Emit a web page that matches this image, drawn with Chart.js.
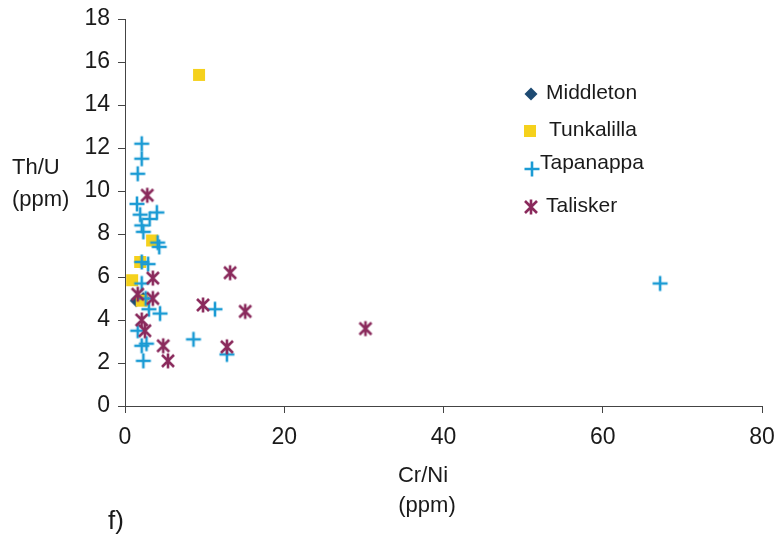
<!DOCTYPE html>
<html>
<head>
<meta charset="utf-8">
<script src="https://cdn.jsdelivr.net/npm/chart.js@4.4.1/dist/chart.umd.min.js"></script>
<style>
  html, body { margin: 0; padding: 0; background: #fff; }
  #wrap { width: 774px; height: 541px; }
</style>
</head>
<body>
<div id="wrap"><canvas id="thuChart" width="774" height="541"></canvas></div>
<script>
// Cr/Ni vs Th/U by locality
const seriesNames = ['Middleton', 'Tunkalilla', 'Tapanappa', 'Talisker'];

const middletonCrNi = [1.4, 2.3];
const middletonThU  = [4.9, 5.0];

const tunkalillaCrNi = [9.3, 3.4, 1.9, 0.9, 2.1];
const tunkalillaThU  = [15.4, 7.7, 6.7, 5.85, 4.9];

const tapanappaCrNi = [2.1, 2.1, 1.6, 1.5, 4.0, 1.9, 3.1, 2.1, 2.3, 4.1, 4.3, 2.1, 2.9, 2.1, 2.6, 4.4, 3.0, 1.6, 2.7, 2.1, 2.3, 8.6, 11.3, 12.8, 67.2];
const tapanappaThU  = [12.2, 11.5, 10.8, 9.4, 9.0, 8.9, 8.7, 8.4, 8.1, 7.6, 7.4, 6.7, 6.6, 5.7, 5.0, 4.3, 4.5, 3.5, 2.9, 2.8, 2.1, 3.1, 4.5, 2.4, 5.7];

const taliskerCrNi = [2.8, 3.5, 1.6, 3.5, 2.1, 2.5, 4.8, 5.4, 9.8, 13.2, 15.1, 12.8, 30.2];
const taliskerThU  = [9.8, 5.95, 5.2, 5.0, 4.0, 3.5, 2.8, 2.1, 4.7, 6.2, 4.4, 2.75, 3.6];

const xTicks = [0, 20, 40, 60, 80];
const yTicks = [0, 2, 4, 6, 8, 10, 12, 14, 16, 18];

const colors = {
    Middleton: '#1d4a72',
    Tunkalilla: '#f5d11c',
    Tapanappa: '#1b9bd4',
    Talisker: '#8a2a5c'
};

// small canvases used as point styles (and in the legend)
function makeMarker(kind, color) {
    const size = 18;
    const c = document.createElement('canvas');
    c.width = size;
    c.height = size;
    const g = c.getContext('2d');
    const m = size / 2;
    g.fillStyle = color;
    g.strokeStyle = color;
    if (kind === 'diamond') {
        g.beginPath();
        g.moveTo(m, m - 6.5);
        g.lineTo(m + 6.5, m);
        g.lineTo(m, m + 6.5);
        g.lineTo(m - 6.5, m);
        g.closePath();
        g.fill();
    } else if (kind === 'square') {
        g.fillRect(m - 6, m - 6, 12, 12);
    } else if (kind === 'plus') {
        g.lineWidth = 2.6;
        g.beginPath();
        g.moveTo(m - 7.5, m);
        g.lineTo(m + 7.5, m);
        g.moveTo(m, m - 7.5);
        g.lineTo(m, m + 7.5);
        g.stroke();
    } else if (kind === 'star') {
        g.lineWidth = 2.6;
        g.beginPath();
        g.moveTo(m - 6, m - 6);
        g.lineTo(m + 6, m + 6);
        g.moveTo(m + 6, m - 6);
        g.lineTo(m - 6, m + 6);
        g.moveTo(m, m - 7.5);
        g.lineTo(m, m + 7.5);
        g.stroke();
    }
    return c;
}

const markers = {
    Middleton: makeMarker('diamond', colors.Middleton),
    Tunkalilla: makeMarker('square', colors.Tunkalilla),
    Tapanappa: makeMarker('plus', colors.Tapanappa),
    Talisker: makeMarker('star', colors.Talisker)
};

function toPoints(xs, ys) {
    return xs.map((x, i) => ({ x: x, y: ys[i] }));
}

const seriesData = {
    Middleton: toPoints(middletonCrNi, middletonThU),
    Tunkalilla: toPoints(tunkalillaCrNi, tunkalillaThU),
    Tapanappa: toPoints(tapanappaCrNi, tapanappaThU),
    Talisker: toPoints(taliskerCrNi, taliskerThU)
};

// lower order is painted last, so Talisker ends up on top
const drawOrder = { Middleton: 3, Tunkalilla: 2, Tapanappa: 1, Talisker: 0 };

const FONT = '"Liberation Sans", Arial, sans-serif';
const INK = '#1a1a1a';

// axis titles, panel letter and the legend box on the right
const annotations = {
    id: 'annotations',
    afterDraw(chart) {
        const ctx = chart.ctx;
        ctx.save();
        ctx.fillStyle = INK;
        ctx.textBaseline = 'middle';

        ctx.font = '22px ' + FONT;
        ctx.textAlign = 'left';
        ctx.fillText('Th/U', 12, 168);
        ctx.fillText('(ppm)', 12, 200);

        ctx.textAlign = 'center';
        ctx.fillText('Cr/Ni', 423, 476);
        ctx.fillText('(ppm)', 427, 506);

        ctx.textAlign = 'left';
        ctx.font = '26px ' + FONT;
        ctx.fillText('f)', 108, 522);

        const legendRows = [
            { name: 'Middleton', mx: 531, my: 94, tx: 546, ty: 93 },
            { name: 'Tunkalilla', mx: 530, my: 131, tx: 549, ty: 130 },
            { name: 'Tapanappa', mx: 532, my: 169, tx: 540, ty: 163 },
            { name: 'Talisker', mx: 531, my: 207, tx: 546, ty: 206 }
        ];
        ctx.font = '21px ' + FONT;
        legendRows.forEach(row => {
            const img = markers[row.name];
            ctx.drawImage(img, row.mx - img.width / 2, row.my - img.height / 2);
            ctx.fillText(row.name, row.tx, row.ty);
        });
        ctx.restore();
    }
};

const config = {
    type: 'scatter',
    data: {
        datasets: seriesNames.map(name => ({
            label: name,
            data: seriesData[name],
            pointStyle: markers[name],
            backgroundColor: colors[name],
            borderColor: colors[name],
            order: drawOrder[name]
        }))
    },
    options: {
        responsive: false,
        animation: false,
        layout: {
            padding: { left: 0, right: 12, top: 19, bottom: 95 }
        },
        plugins: {
            legend: { display: false },
            tooltip: { enabled: false }
        },
        scales: {
            x: {
                type: 'linear',
                min: 0,
                max: 80,
                afterBuildTicks: scale => {
                    scale.ticks = xTicks.map(v => ({ value: v }));
                },
                afterFit: scale => {
                    scale.height = 40;
                    scale.paddingLeft = 0;
                    scale.paddingRight = 0;
                },
                grid: {
                    drawOnChartArea: false,
                    drawTicks: true,
                    tickLength: 7,
                    color: '#444'
                },
                border: { color: '#444', width: 1 },
                ticks: {
                    color: INK,
                    padding: 11,
                    maxRotation: 0,
                    font: { family: FONT, size: 23 }
                }
            },
            y: {
                type: 'linear',
                min: 0,
                max: 18,
                afterBuildTicks: scale => {
                    scale.ticks = yTicks.map(v => ({ value: v }));
                },
                afterFit: scale => {
                    scale.width = 125;
                    scale.paddingTop = 0;
                    scale.paddingBottom = 0;
                },
                grid: {
                    drawOnChartArea: false,
                    drawTicks: true,
                    tickLength: 7,
                    color: '#444'
                },
                border: { color: '#444', width: 1 },
                ticks: {
                    color: INK,
                    padding: 8,
                    font: { family: FONT, size: 23 }
                }
            }
        }
    },
    plugins: [annotations]
};

const ctx = document.getElementById('thuChart').getContext('2d');
const thuChart = new Chart(ctx, config);
</script>
</body>
</html>
